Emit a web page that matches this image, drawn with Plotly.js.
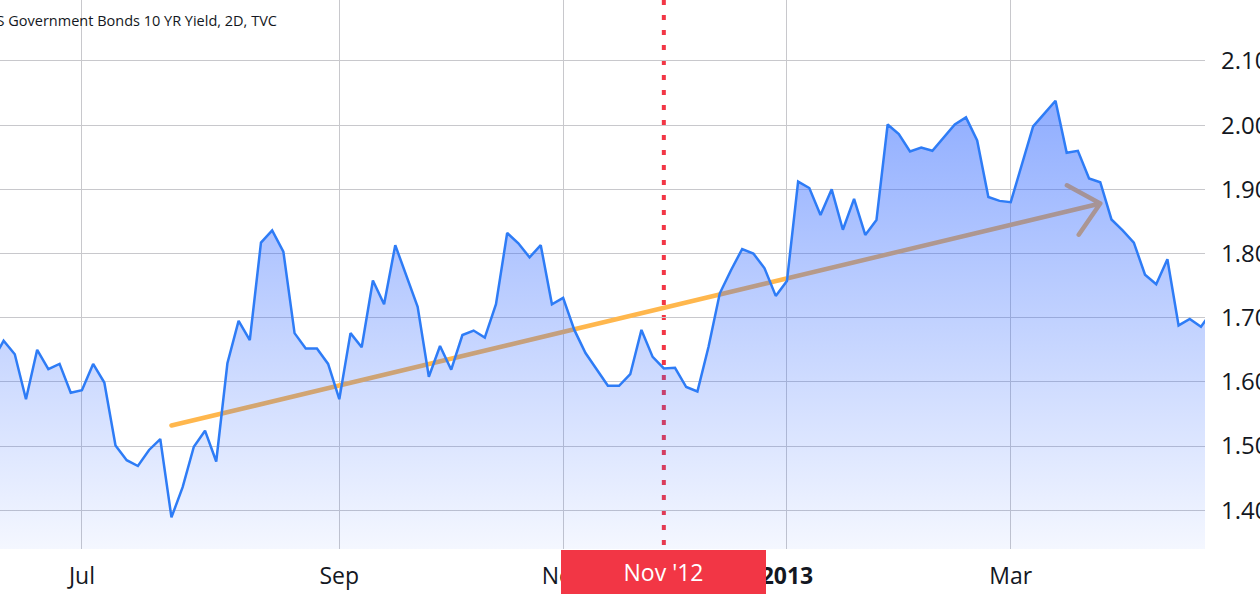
<!DOCTYPE html>
<html>
<head>
<meta charset="utf-8">
<script src="https://cdn.plot.ly/plotly-3.0.1.min.js"></script>
<style>
html,body{margin:0;padding:0;background:#fff;overflow:hidden;}
#chart{width:1260px;height:602px;}
</style>
</head>
<body>
<div id="chart"></div>
<script>
// 2-day bars, first bar index is -1 (just off the left edge)
const firstBar = -1;
const yields = [
  1.633, 1.664, 1.643, 1.573, 1.650, 1.620, 1.628, 1.583, 1.587, 1.628,
  1.599, 1.501, 1.478, 1.469, 1.494, 1.511, 1.389, 1.436, 1.499, 1.524,
  1.476, 1.629, 1.695, 1.665, 1.817, 1.836, 1.803, 1.676, 1.652, 1.652,
  1.628, 1.573, 1.676, 1.654, 1.758, 1.721, 1.813, 1.765, 1.717, 1.608,
  1.656, 1.619, 1.673, 1.680, 1.669, 1.721, 1.832, 1.816, 1.794, 1.813,
  1.721, 1.731, 1.681, 1.645, 1.620, 1.594, 1.594, 1.612, 1.681, 1.639,
  1.621, 1.622, 1.592, 1.585, 1.655, 1.738, 1.774, 1.807, 1.800, 1.777,
  1.734, 1.757, 1.912, 1.902, 1.860, 1.900, 1.837, 1.885, 1.829, 1.852,
  2.001, 1.986, 1.959, 1.965, 1.960, 1.981, 2.001, 2.012, 1.976, 1.888,
  1.882, 1.880, 1.939, 1.998, 2.018, 2.038, 1.957, 1.960, 1.917, 1.911,
  1.853, 1.836, 1.817, 1.767, 1.752, 1.791, 1.688, 1.698, 1.686, 1.710
];
const bars = yields.map((_, i) => firstBar + i);

const tickBars   = [7, 30, 50, 70, 90];
const tickLabels = ['Jul', 'Sep', 'Nov', '<b>2013</b>', 'Mar'];
const yTicks     = [1.4, 1.5, 1.6, 1.7, 1.8, 1.9, 2.0, 2.1];

const markerBar   = 59;
const markerLabel = "Nov '12";
const arrowBars   = [15, 98];
const arrowYields = [1.532, 1.878];
const titleText   = 'US Government Bonds 10 YR Yield, 2D, TVC';

// ---- layout geometry ----
const W = 1260, H = 602;
const M = {l: 0, r: 55, t: 0, b: 53, pad: 0};
const xRange = [-0.322, 107.36];
const yRange = [1.3397, 2.1949];
const pw = W - M.l - M.r, ph = H - M.t - M.b;
const toPx = x => M.l + (x - xRange[0]) / (xRange[1] - xRange[0]) * pw;
const toPy = y => M.t + (yRange[1] - y) / (yRange[1] - yRange[0]) * ph;
const fromPx = px => xRange[0] + (px - M.l) / pw * (xRange[1] - xRange[0]);
const fromPy = py => yRange[1] - (py - M.t) / ph * (yRange[1] - yRange[0]);

// arrow path (data coords), head computed in pixel space
const sx = toPx(arrowBars[0]), sy = toPy(arrowYields[0]);
const tx = toPx(arrowBars[1]), ty = toPy(arrowYields[1]);
const back = Math.atan2(sy - ty, sx - tx);
const headLen = 38, headAng = 42 * Math.PI / 180;
const w1 = [tx + headLen * Math.cos(back - headAng), ty + headLen * Math.sin(back - headAng)];
const w2 = [tx + headLen * Math.cos(back + headAng), ty + headLen * Math.sin(back + headAng)];
const P = (px, py) => fromPx(px) + ',' + fromPy(py);
const arrowPath = 'M' + P(sx, sy) + ' L' + P(tx, ty) + ' M' + P(w1[0], w1[1]) + ' L' + P(tx, ty) + ' L' + P(w2[0], w2[1]);

const maxY = Math.max(...yields);

const trace = {
  type: 'scatter', mode: 'lines',
  x: bars, y: yields,
  line: {color: '#2e7cf6', width: 2.5},
  fill: 'tozeroy',
  fillgradient: {
    type: 'vertical',
    start: yRange[0], stop: maxY,
    colorscale: [[0, 'rgba(41,98,255,0.05)'], [1, 'rgba(41,98,255,0.52)']]
  },
  hoverinfo: 'skip'
};

const font = '"Open Sans", "Noto Sans", sans-serif';
const layout = {
  width: W, height: H, margin: M,
  paper_bgcolor: '#ffffff', plot_bgcolor: '#ffffff',
  showlegend: false,
  font: {family: font, color: '#131722'},
  xaxis: {
    range: xRange, tickmode: 'array', tickvals: tickBars, ticktext: tickLabels,
    showgrid: true, gridcolor: '#c8c8cc', gridwidth: 1, zeroline: false, showline: false,
    ticks: '', ticklabelstandoff: 11, tickfont: {size: 23, color: '#131722', family: font}
  },
  yaxis: {
    side: 'right', range: yRange, tickmode: 'array', tickvals: yTicks, tickformat: '.2f',
    showgrid: true, gridcolor: '#c8c8cc', gridwidth: 1, zeroline: false, showline: false,
    ticks: '', ticklabelstandoff: 15, tickfont: {size: 24, color: '#131722', family: font}
  },
  shapes: [
    {type: 'line', xref: 'x', yref: 'paper', x0: markerBar, x1: markerBar, y0: 1, y1: 0,
     layer: 'between', line: {color: '#f23645', width: 4, dash: '5px,10px'}},
    {type: 'path', xref: 'x', yref: 'y', path: arrowPath, layer: 'between',
     line: {color: '#ffb74d', width: 4.5}}
  ],
  annotations: [
    {xref: 'paper', yref: 'paper', x: 279 / pw, y: 1 - 20 / ph, xanchor: 'right', yanchor: 'middle',
     text: titleText, showarrow: false, font: {size: 14.5, color: '#131722', family: font}},
    {xref: 'x', yref: 'paper', x: markerBar, y: -1 / ph, xanchor: 'center', yanchor: 'top',
     text: markerLabel, showarrow: false, bgcolor: '#f23645', borderwidth: 0, borderpad: 0,
     width: 205, height: 44, align: 'center', valign: 'middle',
     font: {size: 23, color: '#ffffff', family: font}}
  ]
};

Plotly.newPlot('chart', [trace], layout, {staticPlot: true, displayModeBar: false}).then(() => {
  document.querySelectorAll('.shapelayer path').forEach(p => {
    if ((p.getAttribute('d') || '').split('M').length > 2) {
      p.style.strokeLinecap = 'round';
      p.style.strokeLinejoin = 'round';
    }
  });
});
</script>
</body>
</html>
